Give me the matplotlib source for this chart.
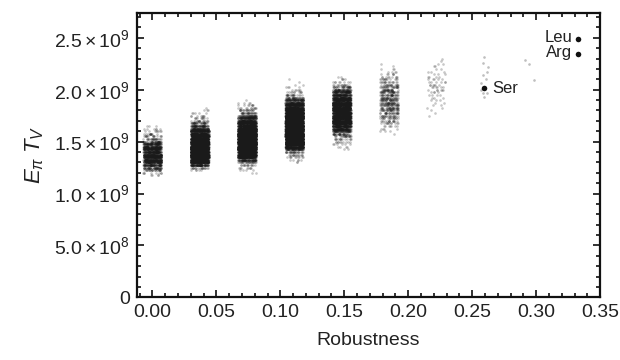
import numpy as np
import pandas as pd
import matplotlib
matplotlib.use("Agg")
import matplotlib.pyplot as plt
import seaborn as sns
from matplotlib.ticker import MultipleLocator, FuncFormatter

# robustness values of the clusters (k/27)
CLUSTER_X = [0.000, 0.037, 0.074, 0.111, 0.148, 0.185, 0.222]

# histogram of each cluster:
# first level (units of 1e9), then counts at 0.025e9 steps
LEVEL_STEP = 0.025
START = [1.175, 1.225, 1.200, 1.300, 1.425, 1.575, 1.750]

COUNTS_000 = [4, 8, 25, 50, 90, 120, 135, 140, 140, 135, 130, 115,
              90, 50, 25, 16, 12, 8, 6, 3]
COUNTS_037 = [5, 20, 100, 180, 240, 270, 300, 300, 300, 300, 290, 280,
              250, 220, 180, 140, 100, 70, 35, 18, 10, 8, 5, 3, 1]
COUNTS_074 = [2, 4, 8, 15, 30, 80, 180, 260, 300, 340, 360, 370, 375,
              370, 360, 340, 310, 270, 230, 180, 140, 100, 60, 30, 20,
              12, 8, 4, 1]
COUNTS_111 = [2, 5, 10, 15, 30, 80, 180, 250, 290, 320, 340, 350, 350,
              350, 350, 340, 320, 300, 280, 250, 220, 180, 150, 110, 80,
              40, 20, 10, 6, 4, 2, 1, 1]
COUNTS_148 = [2, 4, 6, 10, 15, 22, 35, 70, 120, 160, 190, 210, 220, 225,
              225, 225, 220, 200, 180, 160, 140, 115, 90, 60, 30, 15, 8,
              4, 2]
COUNTS_185 = [1, 3, 4, 7, 12, 15, 18, 22, 27, 30, 33, 33, 35, 35, 33, 33,
              32, 30, 25, 21, 16, 13, 9, 6, 4, 3, 1, 1]
COUNTS_222 = [1, 1, 1, 2, 2, 2, 3, 3, 4, 4, 6, 6, 6, 6, 5, 4, 3, 3, 2, 2,
              2, 1, 1]

# the sparse clusters, read point by point (units of 1e9)
X_259 = 0.259
Y_259 = [2.32, 2.26, 2.22, 2.17, 2.14, 2.10, 2.06, 1.97, 1.965, 1.93, 2.00]
X_296 = 0.296
Y_296 = [2.29, 2.25, 2.09]

# highlighted amino acids
NAMED = ["Leu", "Arg", "Ser"]
NAMED_X = [0.333, 0.333, 0.259]
NAMED_Y = [2.49e9, 2.344e9, 2.013e9]

plt.rcParams["font.family"] = ["Liberation Sans", "DejaVu Sans"]
plt.rcParams["mathtext.fontset"] = "custom"
plt.rcParams["mathtext.rm"] = "Liberation Sans"
plt.rcParams["mathtext.it"] = "Liberation Sans:italic"
plt.rcParams["mathtext.bf"] = "Liberation Sans:bold"
plt.rcParams["mathtext.sf"] = "Liberation Sans"

counts = [COUNTS_000, COUNTS_037, COUNTS_074, COUNTS_111,
          COUNTS_148, COUNTS_185, COUNTS_222]
rows_x = []
rows_y = []
for cx, start, cnt in zip(CLUSTER_X, START, counts):
    levels = (start + LEVEL_STEP * np.arange(len(cnt))) * 1e9
    ys = np.repeat(levels, cnt)
    rows_x.extend([cx] * len(ys))
    rows_y.extend(ys)
dense = pd.DataFrame({"robustness": rows_x, "value": rows_y})

sparse = pd.DataFrame({
    "robustness": [X_259] * len(Y_259) + [X_296] * len(Y_296),
    "value": np.array(Y_259 + Y_296) * 1e9,
})

fig = plt.figure(figsize=(6.2, 3.6), dpi=100)
ax = fig.add_axes([0.221, 0.174, 0.747, 0.789])

sns.stripplot(data=dense, x="robustness", y="value", native_scale=True,
              jitter=0.19, color="#1a1a1a", alpha=0.24, size=1.9,
              linewidth=0, ax=ax)
sns.stripplot(data=sparse, x="robustness", y="value", native_scale=True,
              jitter=0.12, color="#1a1a1a", alpha=0.28, size=1.9,
              linewidth=0, ax=ax)

ax.scatter(NAMED_X, NAMED_Y, s=16, color="#111111", zorder=5, linewidths=0)
for name, x, y in zip(NAMED, NAMED_X, NAMED_Y):
    if name == "Ser":
        ax.annotate(name, (x, y), xytext=(6.5, 0), textcoords="offset points",
                    ha="left", va="center", fontsize=12, color="#222222")
    else:
        ax.annotate(name, (x, y), xytext=(-4.5, 1), textcoords="offset points",
                    ha="right", va="center", fontsize=12, color="#222222")

ax.set_xlim(-0.012, 0.35)
ax.set_ylim(0, 2.736e9)
ax.xaxis.set_major_locator(MultipleLocator(0.05))
ax.xaxis.set_minor_locator(MultipleLocator(0.01))
ax.yaxis.set_major_locator(MultipleLocator(5e8))
ax.yaxis.set_minor_locator(MultipleLocator(1e8))
ax.xaxis.set_major_formatter(FuncFormatter(lambda v, p: f"{v:.2f}"))


def sci(v, pos):
    if abs(v) < 1:
        return "0"
    if v < 0:
        return ""
    e = int(np.floor(np.log10(v)))
    m = v / 10 ** e
    return r"$\mathregular{%.1f\times10^{%d}}$" % (m, e)


ax.yaxis.set_major_formatter(FuncFormatter(sci))

ax.tick_params(which="both", direction="in", top=True, right=True,
               width=1.3, labelsize=14, colors="#222222")
ax.tick_params(which="major", length=5, pad=5)
ax.tick_params(which="minor", length=3)
for sp in ax.spines.values():
    sp.set_linewidth(1.6)
    sp.set_color("#111111")

ax.set_xlabel("Robustness", fontsize=14, color="#222222", labelpad=8)
ax.set_ylabel(r"$E_{\pi}\;T_{V}$", fontsize=16, color="#222222", labelpad=6)

fig.savefig("out.png", dpi=100)
